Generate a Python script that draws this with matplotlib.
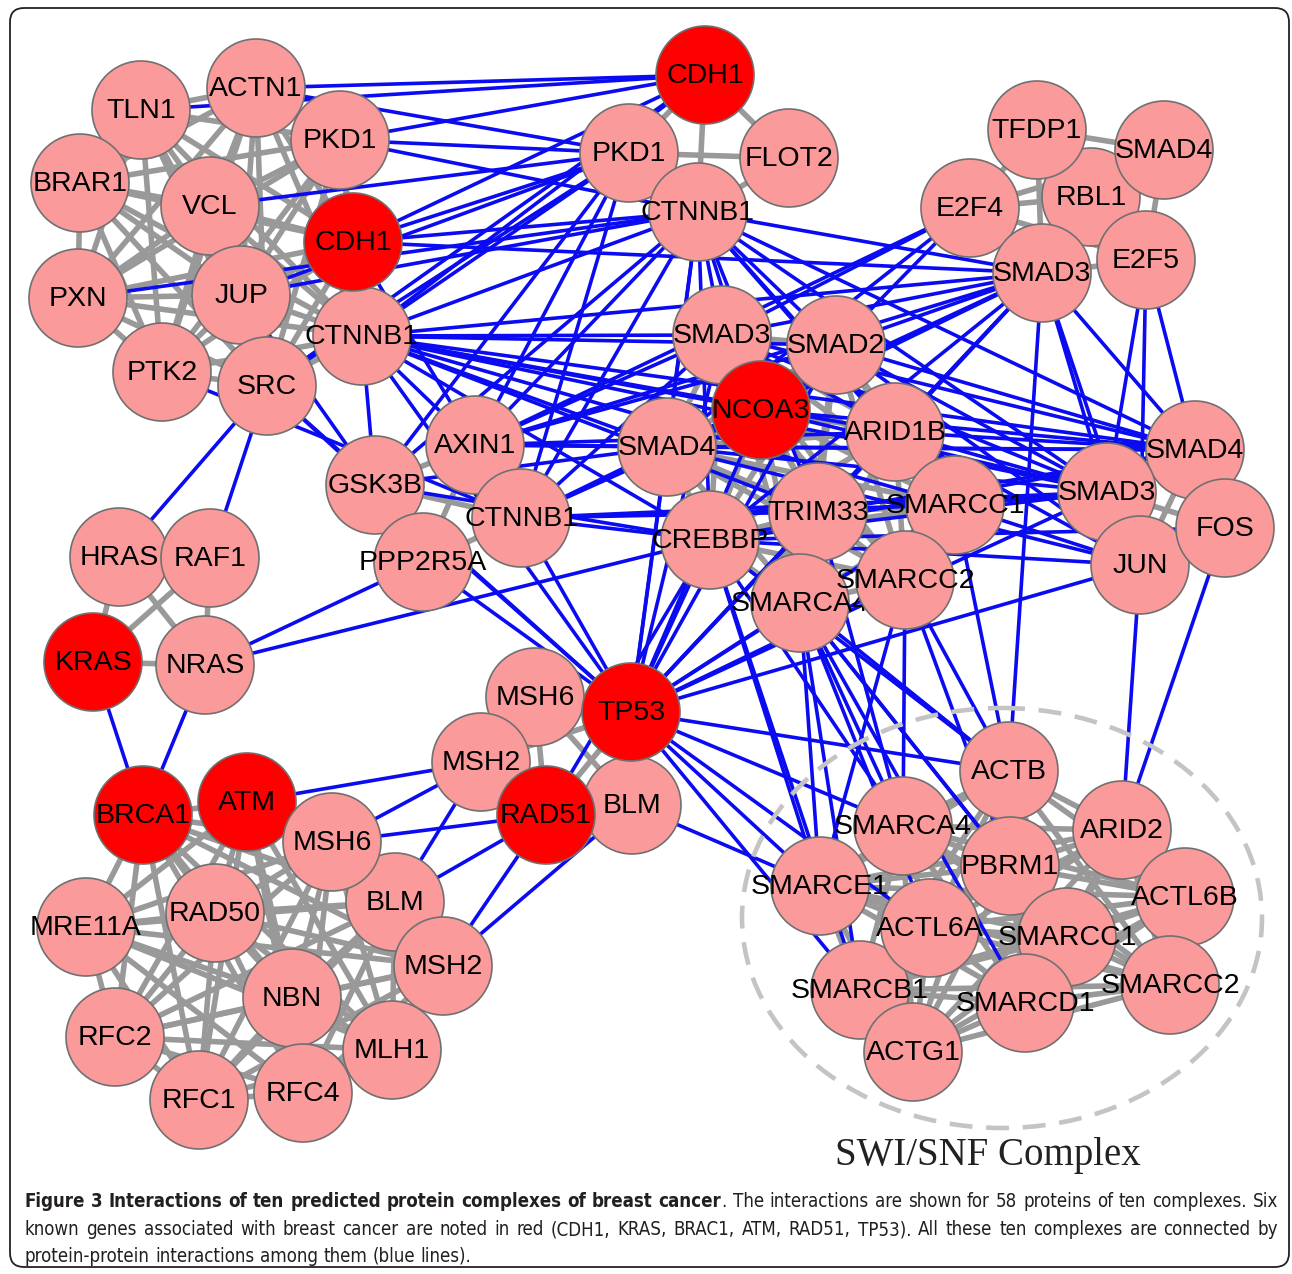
import itertools
import matplotlib
matplotlib.use('Agg')
import matplotlib.pyplot as plt
from matplotlib import font_manager
from matplotlib.patches import Circle, Ellipse, FancyBboxPatch
from matplotlib.collections import LineCollection

# ---- data: ten complexes (node key = "group:GENE"), drawn in this order ----
adhesion = ['tl:TLN1', 'tl:ACTN1', 'tl:PKD1', 'tl:BRAR1', 'tl:VCL', 'tl:JUP', 'tl:PXN',
            'tl:PTK2', 'tl:SRC', 'tl:CTNNB1', 'tl:CDH1']
cadherin = ['tm:PKD1', 'tm:CTNNB1', 'tm:FLOT2', 'tm:CDH1']
e2f = ['tr:RBL1', 'tr:TFDP1', 'tr:SMAD4', 'tr:E2F4', 'tr:SMAD3', 'tr:E2F5']
smad = ['c:SMAD4', 'c:SMAD3', 'c:SMAD2', 'c:NCOA3', 'c:ARID1B', 'c:TRIM33', 'c:CREBBP',
        'c:SMARCA4', 'c:SMARCC1', 'c:SMARCC2']
wnt = ['w:AXIN1', 'w:GSK3B', 'w:CTNNB1', 'w:PPP2R5A']
ras = ['r:HRAS', 'r:RAF1', 'r:KRAS', 'r:NRAS']
ap1 = ['a:SMAD4', 'a:SMAD3', 'a:JUN', 'a:FOS']
mmr = ['m:MSH6', 'm:BLM', 'm:TP53', 'm:MSH2', 'm:RAD51']
basc = ['b:BRCA1', 'b:ATM', 'b:BLM', 'b:MSH6', 'b:MRE11A', 'b:RAD50', 'b:MSH2', 'b:NBN',
        'b:RFC2', 'b:MLH1', 'b:RFC1', 'b:RFC4']
swisnf = ['s:ACTB', 's:PBRM1', 's:SMARCA4', 's:ARID2', 's:ACTL6B', 's:SMARCE1', 's:SMARCB1',
          's:ACTL6A', 's:SMARCC1', 's:SMARCD1', 's:ACTG1', 's:SMARCC2']
complexes = [adhesion, cadherin, e2f, smad, wnt, ras, ap1, mmr, basc, swisnf]

red_genes = ['CDH1', 'NCOA3', 'KRAS', 'BRCA1', 'ATM', 'RAD51', 'TP53']

# interactions between complexes (blue)
blue_edges = [
    ('tl:ACTN1', 'tm:CDH1'), ('tl:TLN1', 'tm:CDH1'), ('tl:PKD1', 'tm:CDH1'), ('tl:CDH1', 'tm:CDH1'),
    ('tl:CTNNB1', 'tm:CDH1'), ('tl:SRC', 'tm:CDH1'),
    ('tl:PKD1', 'tm:PKD1'), ('tl:CDH1', 'tm:PKD1'), ('tl:CTNNB1', 'tm:PKD1'), ('tl:VCL', 'tm:PKD1'),
    ('tl:ACTN1', 'tm:PKD1'), ('tl:JUP', 'tm:PKD1'), ('tl:SRC', 'tm:PKD1'),
    ('tl:PKD1', 'tm:CTNNB1'), ('tl:CDH1', 'tm:CTNNB1'), ('tl:CTNNB1', 'tm:CTNNB1'),
    ('tl:PXN', 'tm:CTNNB1'), ('tl:JUP', 'tm:CTNNB1'),
    ('tl:CTNNB1', 'w:GSK3B'), ('tl:CTNNB1', 'w:AXIN1'), ('tl:CDH1', 'w:CTNNB1'), ('tl:SRC', 'w:GSK3B'),
    ('tl:PTK2', 'w:CTNNB1'), ('tl:JUP', 'w:GSK3B'),
    ('tl:CTNNB1', 'c:SMAD3'), ('tl:CTNNB1', 'c:SMAD2'), ('tl:CTNNB1', 'c:NCOA3'), ('tl:CTNNB1', 'c:SMAD4'),
    ('tl:CTNNB1', 'c:ARID1B'), ('tl:CTNNB1', 'c:TRIM33'), ('tl:CTNNB1', 'c:CREBBP'), ('tl:CTNNB1', 'c:SMARCC1'),
    ('tl:CTNNB1', 'a:SMAD4'), ('tl:CTNNB1', 'a:SMAD3'), ('tl:CTNNB1', 'tr:SMAD3'), ('tl:CDH1', 'tr:SMAD3'),
    ('tl:CTNNB1', 'm:TP53'), ('tl:SRC', 'm:TP53'),
    ('tl:SRC', 'r:HRAS'), ('tl:SRC', 'r:RAF1'),
    ('tm:CTNNB1', 'c:SMAD3'), ('tm:CTNNB1', 'c:SMAD2'), ('tm:CTNNB1', 'c:NCOA3'), ('tm:CTNNB1', 'c:SMAD4'),
    ('tm:CTNNB1', 'c:CREBBP'), ('tm:CTNNB1', 'c:TRIM33'), ('tm:CTNNB1', 'c:ARID1B'), ('tm:CTNNB1', 'c:SMARCC1'),
    ('tm:CTNNB1', 'w:AXIN1'), ('tm:CTNNB1', 'w:GSK3B'), ('tm:CTNNB1', 'w:CTNNB1'), ('tm:CTNNB1', 'a:SMAD4'),
    ('tm:CTNNB1', 'a:SMAD3'), ('tm:CTNNB1', 'tr:SMAD3'), ('tm:CTNNB1', 'm:TP53'),
    ('tm:PKD1', 'w:GSK3B'), ('tm:PKD1', 'w:CTNNB1'), ('tm:PKD1', 'w:AXIN1'),
    ('tr:SMAD3', 'c:SMAD3'), ('tr:SMAD3', 'c:SMAD2'), ('tr:SMAD3', 'c:NCOA3'), ('tr:SMAD3', 'c:SMAD4'),
    ('tr:SMAD3', 'c:CREBBP'), ('tr:SMAD3', 'c:TRIM33'), ('tr:SMAD3', 'c:ARID1B'), ('tr:SMAD3', 'w:AXIN1'),
    ('tr:SMAD3', 'w:CTNNB1'), ('tr:SMAD3', 'a:SMAD4'), ('tr:SMAD3', 'a:SMAD3'), ('tr:SMAD3', 'a:JUN'),
    ('tr:SMAD3', 's:ACTB'), ('tr:SMAD3', 'm:TP53'),
    ('tr:E2F4', 'c:SMAD3'), ('tr:E2F4', 'c:SMAD4'), ('tr:E2F4', 'c:SMAD2'), ('tr:E2F4', 'w:AXIN1'),
    ('tr:E2F5', 'a:SMAD4'), ('tr:E2F5', 'a:JUN'), ('tr:E2F5', 'a:SMAD3'),
    ('c:SMAD3', 'a:SMAD4'), ('c:SMAD3', 'a:SMAD3'), ('c:SMAD3', 'a:JUN'),
    ('c:SMAD2', 'a:SMAD4'), ('c:SMAD2', 'a:SMAD3'), ('c:SMAD2', 'a:JUN'),
    ('c:NCOA3', 'a:SMAD4'), ('c:NCOA3', 'a:SMAD3'),
    ('c:SMAD4', 'a:SMAD4'), ('c:SMAD4', 'a:SMAD3'), ('c:SMAD4', 'a:JUN'),
    ('c:ARID1B', 'a:SMAD4'), ('c:ARID1B', 'a:SMAD3'),
    ('c:TRIM33', 'a:SMAD4'), ('c:TRIM33', 'a:SMAD3'),
    ('c:SMARCC1', 'a:SMAD3'), ('c:SMARCC1', 'a:JUN'),
    ('c:CREBBP', 'a:SMAD3'), ('c:CREBBP', 'a:SMAD4'), ('c:CREBBP', 'a:JUN'), ('c:CREBBP', 'a:FOS'),
    ('w:AXIN1', 'c:SMAD3'), ('w:AXIN1', 'c:SMAD2'), ('w:AXIN1', 'c:SMAD4'), ('w:AXIN1', 'c:ARID1B'),
    ('w:AXIN1', 'a:SMAD4'),
    ('w:CTNNB1', 'c:SMAD4'), ('w:CTNNB1', 'c:CREBBP'), ('w:CTNNB1', 'c:TRIM33'), ('w:CTNNB1', 'c:SMARCC1'),
    ('w:CTNNB1', 'a:SMAD3'), ('w:CTNNB1', 'c:SMAD3'), ('w:CTNNB1', 'c:NCOA3'),
    ('w:GSK3B', 'c:CREBBP'), ('w:GSK3B', 'c:SMAD4'),
    ('w:GSK3B', 'm:TP53'), ('w:PPP2R5A', 'm:TP53'), ('w:CTNNB1', 'm:TP53'),
    ('r:NRAS', 'w:PPP2R5A'), ('r:NRAS', 'c:CREBBP'), ('r:KRAS', 'b:BRCA1'), ('r:NRAS', 'b:BRCA1'),
    ('m:TP53', 'c:CREBBP'), ('m:TP53', 'c:SMAD4'), ('m:TP53', 'c:SMAD3'), ('m:TP53', 'c:SMAD2'),
    ('m:TP53', 'c:NCOA3'), ('m:TP53', 'c:TRIM33'), ('m:TP53', 'c:SMARCC1'), ('m:TP53', 'c:ARID1B'),
    ('m:TP53', 'c:SMARCA4'), ('m:TP53', 'c:SMARCC2'), ('m:TP53', 'a:SMAD3'), ('m:TP53', 'a:JUN'),
    ('m:TP53', 's:SMARCE1'), ('m:TP53', 's:SMARCA4'), ('m:TP53', 's:SMARCB1'), ('m:TP53', 's:ACTL6A'),
    ('m:TP53', 's:ACTB'), ('m:BLM', 's:SMARCE1'), ('m:RAD51', 'c:CREBBP'),
    ('b:ATM', 'm:MSH2'), ('b:MSH6', 'm:MSH2'), ('b:MSH6', 'm:RAD51'), ('b:BLM', 'm:RAD51'),
    ('b:BLM', 'm:MSH2'), ('b:MSH2', 'm:RAD51'), ('b:MSH2', 'm:BLM'),
    ('c:SMARCA4', 's:SMARCE1'), ('c:SMARCA4', 's:SMARCA4'), ('c:SMARCA4', 's:SMARCB1'),
    ('c:SMARCA4', 's:ACTL6A'), ('c:SMARCA4', 's:ACTB'), ('c:SMARCA4', 's:PBRM1'),
    ('c:SMARCA4', 's:SMARCC1'), ('c:SMARCA4', 's:SMARCD1'),
    ('c:SMARCC2', 's:SMARCA4'), ('c:SMARCC2', 's:ACTB'), ('c:SMARCC2', 's:SMARCE1'), ('c:SMARCC2', 's:PBRM1'),
    ('c:CREBBP', 's:SMARCE1'), ('c:CREBBP', 's:SMARCA4'), ('c:CREBBP', 's:SMARCB1'), ('c:CREBBP', 's:ACTB'),
    ('c:SMARCC1', 's:ACTB'), ('c:TRIM33', 's:SMARCA4'),
    ('a:JUN', 's:ARID2'), ('a:FOS', 's:ARID2'),
]

caption_lines = [
    [[('Figure', 'bold')], [('3', 'bold')], [('Interactions', 'bold')], [('of', 'bold')], [('ten', 'bold')],
     [('predicted', 'bold')], [('protein', 'bold')], [('complexes', 'bold')], [('of', 'bold')],
     [('breast', 'bold')], [('cancer', 'bold'), ('.', 'normal')]]
    + [[(w, 'normal')] for w in 'The interactions are shown for 58 proteins of ten complexes. Six'.split()],
    [[(w, 'normal')] for w in ('known genes associated with breast cancer are noted in red (CDH1, KRAS, '
                               'BRAC1, ATM, RAD51, TP53). All these ten complexes are connected by').split()],
    [[(w, 'normal')] for w in 'protein-protein interactions among them (blue lines).'.split()],
]
complex_label = 'SWI/SNF Complex'

# ---- layout (pixel coordinates of node centres) ----
layout = {
    'tl:TLN1': (141, 110), 'tl:ACTN1': (256, 88), 'tl:PKD1': (340, 140), 'tl:BRAR1': (80, 183),
    'tl:VCL': (210, 206), 'tl:CDH1': (353, 242), 'tl:PXN': (78, 298), 'tl:JUP': (241, 295),
    'tl:CTNNB1': (362, 336), 'tl:PTK2': (162, 372), 'tl:SRC': (267, 386),
    'tm:CDH1': (705, 75), 'tm:PKD1': (629, 153), 'tm:FLOT2': (789, 158), 'tm:CTNNB1': (698, 212),
    'tr:TFDP1': (1037, 130), 'tr:SMAD4': (1164, 150), 'tr:E2F4': (970, 208), 'tr:RBL1': (1091, 197),
    'tr:SMAD3': (1042, 273), 'tr:E2F5': (1146, 260),
    'c:SMAD3': (722, 335), 'c:SMAD2': (836, 345), 'c:NCOA3': (761, 410), 'c:SMAD4': (667, 447),
    'c:ARID1B': (895, 432), 'c:CREBBP': (710, 540), 'c:TRIM33': (818, 512), 'c:SMARCC1': (955, 505),
    'c:SMARCA4': (800, 603), 'c:SMARCC2': (905, 580),
    'w:AXIN1': (475, 445), 'w:GSK3B': (375, 485), 'w:CTNNB1': (521, 518), 'w:PPP2R5A': (423, 562),
    'a:SMAD4': (1195, 450), 'a:SMAD3': (1107, 492), 'a:FOS': (1225, 528), 'a:JUN': (1140, 565),
    'r:HRAS': (119, 557), 'r:RAF1': (210, 558), 'r:KRAS': (93, 662), 'r:NRAS': (205, 665),
    'm:MSH6': (535, 697), 'm:TP53': (631, 712), 'm:MSH2': (481, 762), 'm:RAD51': (546, 815),
    'm:BLM': (632, 805),
    'b:BRCA1': (143, 815), 'b:ATM': (247, 802), 'b:MSH6': (332, 842), 'b:MRE11A': (86, 927),
    'b:RAD50': (215, 913), 'b:BLM': (395, 902), 'b:MSH2': (443, 966), 'b:NBN': (292, 998),
    'b:RFC2': (115, 1037), 'b:MLH1': (392, 1050), 'b:RFC1': (199, 1100), 'b:RFC4': (303, 1093),
    's:ACTB': (1009, 771), 's:SMARCA4': (903, 826), 's:ARID2': (1122, 830), 's:PBRM1': (1010, 866),
    's:SMARCE1': (820, 886), 's:ACTL6B': (1185, 897), 's:ACTL6A': (930, 928), 's:SMARCC1': (1067, 937),
    's:SMARCB1': (860, 990), 's:SMARCD1': (1025, 1003), 's:SMARCC2': (1170, 985), 's:ACTG1': (913, 1052),
}

W, H = 1292, 1274
fig = plt.figure(figsize=(W / 100, H / 100), dpi=100)
ax = fig.add_axes([0, 0, 1, 1])
ax.set_xlim(0, W)
ax.set_ylim(H, 0)
ax.axis('off')

# frame
ax.add_patch(FancyBboxPatch((10, 8), 1279, 1259, boxstyle='round,pad=0,rounding_size=14',
                            fill=False, ec='#222222', lw=1.3, zorder=0))

# gray edges inside each complex
gray_segs = []
for members in complexes:
    for a, b in itertools.combinations(members, 2):
        gray_segs.append([layout[a], layout[b]])
ax.add_collection(LineCollection(gray_segs, colors='#999999', linewidths=4.0, zorder=1))

blue_segs = [[layout[a], layout[b]] for a, b in blue_edges]
ax.add_collection(LineCollection(blue_segs, colors='#0b0bf2', linewidths=2.6, zorder=2))

# dashed outline of the SWI/SNF complex
ax.add_patch(Ellipse((1002, 918), 520, 420, fill=False, ec='#c4c4c4', lw=3.3,
                     ls=(0, (5, 3)), zorder=2.5))

# nodes
z = 3
for members in complexes:
    for key in members:
        gene = key.split(':')[1]
        fc = '#ff0000' if gene in red_genes else '#fa9a9a'
        ax.add_patch(Circle(layout[key], 49, fc=fc, ec='#707070', lw=1.2, zorder=z))
        ax.text(layout[key][0], layout[key][1] + 1, gene, ha='center', va='center',
                family=['Liberation Sans', 'DejaVu Sans'], fontsize=20.5, color='black', zorder=z + 0.5)
        z += 1

ax.text(988, 1156, complex_label, ha='center', va='center', fontsize=28,
        family=['Liberation Serif', 'DejaVu Serif'], color='#222222', zorder=z)

# caption (justified, word by word)
names = {f.name for f in font_manager.fontManager.ttflist}
if 'Liberation Sans Narrow' in names:
    cap_family, cap_stretch = ['Liberation Sans Narrow'], 'normal'
else:
    cap_family, cap_stretch = ['DejaVu Sans'], 'condensed'

renderer = fig.canvas.get_renderer()


def seg_width(text, weight, size):
    t = ax.text(0, 0, text, fontsize=size, fontweight=weight, family=cap_family, fontstretch=cap_stretch)
    w = t.get_window_extent(renderer).width
    t.remove()
    return w


x_left, x_right = 25, 1278
ref = 10
space_ref = seg_width('a a', 'normal', ref) - seg_width('aa', 'normal', ref)
size = 14.5
for line in caption_lines[:2]:
    nat = sum(seg_width(s, wt, ref) for word in line for s, wt in word) + space_ref * (len(line) - 1)
    size = min(size, ref * (x_right - x_left - 12) / nat)

baselines = [1207, 1235, 1262]
for i, line in enumerate(caption_lines):
    widths = [sum(seg_width(s, wt, size) for s, wt in word) for word in line]
    if i < 2:
        gap = (x_right - x_left - sum(widths)) / (len(line) - 1)
    else:
        gap = space_ref * size / ref
    x = x_left
    for word, ww in zip(line, widths):
        xx = x
        for s, wt in word:
            ax.text(xx, baselines[i], s, fontsize=size, fontweight=wt, family=cap_family,
                    fontstretch=cap_stretch, ha='left', va='baseline', color='#231f20')
            xx += seg_width(s, wt, size)
        x += ww + gap

fig.savefig('out.png', dpi=100)
